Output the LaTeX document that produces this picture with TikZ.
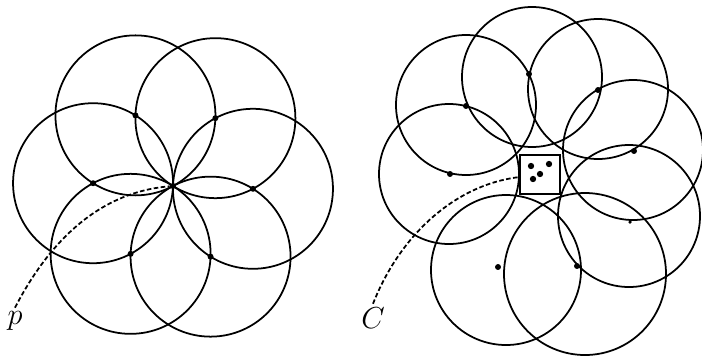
\documentclass[tikz,border=0pt]{standalone}
\usepackage{amsmath}
\usepackage{tikz}
\usetikzlibrary{positioning}

\begin{document}
\begin{tikzpicture}[
  x=0.02cm, y=-0.02cm,
  disk/.style={draw, line width=1pt},
  ctr/.style={circle, fill, inner sep=0pt, minimum size=3.4pt},
  guide/.style={line width=1pt, dash pattern=on 2.6pt off 1.4pt},
  cellbox/.style={draw, line width=1.6pt, minimum width=0.8cm,
                  minimum height=0.78cm, inner sep=0pt},
  lab/.style={font=\fontsize{19}{21}\selectfont, inner sep=2pt},
]
\useasboundingbox (0,0) rectangle (702,356);

%% ---- Left: six disks through p
\def\rr{80}
\coordinate (p) at (173,186);
\foreach \a in {0,60,...,300}{
  \path (p) ++(2-\a:\rr) node[ctr] (c\a) {};
  \draw[disk] (c\a.center) circle[radius=\rr];
}
\node[ctr] (pdot) at (p) {};

\node[lab] (plabel) at (15,321) {$p$};
\draw[guide] (plabel.north) .. controls (50,240) and (100,192) .. (pdot);

%% ---- Right: disks around the cell C
\foreach \x/\y/\r in {466/105/70, 449/174/70, 532/77/70, 598/89/70,
                      633/150/70, 629/216/71, 506/270/75, 585/274/81}
  \draw[disk] (\x,\y) circle[radius=\r];

\foreach \x/\y [count=\i] in {529/74, 598/90, 466/106, 634/151,
                              450/174, 498/267, 577/266}
  \node[ctr] (q\i) at (\x,\y) {};
\node[ctr, minimum size=2pt] (q8) at (630,222) {};

\node[cellbox] (cell) at (540,174.5) {};
\foreach \x/\y [count=\i] in {531/166, 549/164, 540/174, 533/179}
  \node[ctr, minimum size=3.6pt] (s\i) at (\x,\y) {};

\node[lab] (clabel) at (373,318) {$C$};
\draw[guide] (clabel.north) .. controls (400,235) and (455,185) .. (cell);

\end{tikzpicture}
\end{document}
